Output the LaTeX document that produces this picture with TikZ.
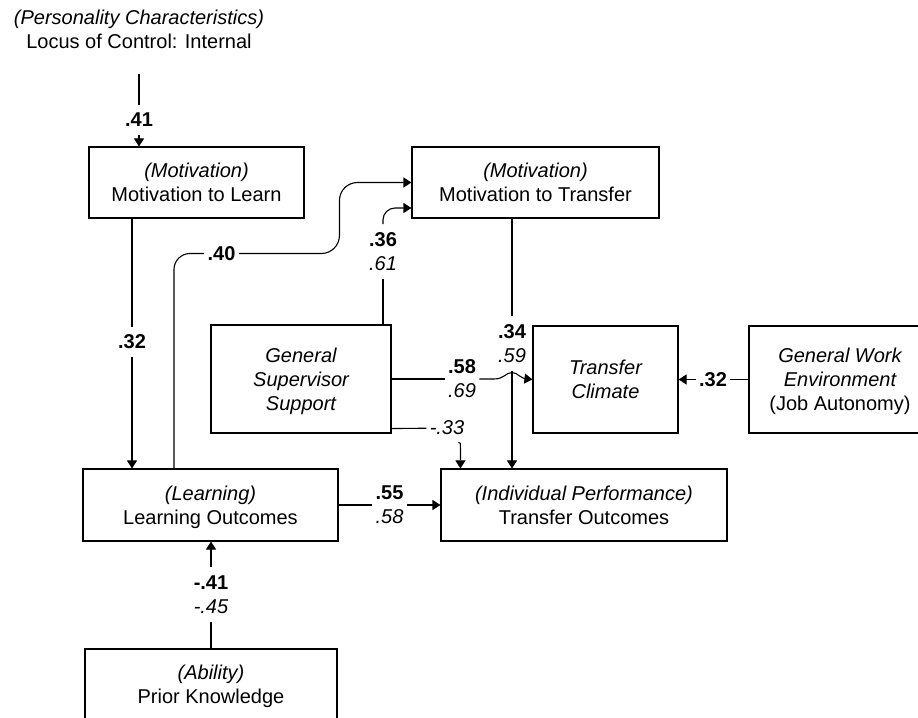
\documentclass[tikz,border=0pt]{standalone}
\usepackage{fontspec}
\setmainfont{Liberation Sans}
\usetikzlibrary{arrows.meta}
% centred lines; the node's baseline is that of the last line
\newcommand\stacklines[1]{\vbox{\halign{\hfil##\hfil\cr#1\crcr}}}
\begin{document}
\begin{tikzpicture}[x=0.5pt, y=-0.5pt,
  every node/.style={font=\fontsize{10}{12}\selectfont},
  box/.style n args={3}{draw, line width=0.55pt, inner sep=0pt,
    minimum width=#1, text height=#2, text depth=#3},
  coef/.style={inner xsep=1.5pt, inner ysep=4pt},
  link/.style={line width=0.55pt},
  arr/.style={link, -{Triangle[length=4pt,width=5pt]}}]
\useasboundingbox (0,0) rectangle (918,718);
\clip (0,0) rectangle (918,718);

% constructs
\node[anchor=base, inner sep=0pt] (locus) at (139,48.5)
  {\stacklines{\itshape (Personality Characteristics)\cr Locus of Control: Internal}};
\node[box={107.5pt}{27.33pt}{8.18pt}] (mtl) at (196.5,182.5)
  {\stacklines{\itshape (Motivation)\cr Motivation to Learn}};
\node[box={123.5pt}{27.33pt}{8.18pt}] (mtt) at (535.5,182.5)
  {\stacklines{\itshape (Motivation)\cr Motivation to Transfer}};
\node[box={90pt}{42.58pt}{11.43pt}] (gss) at (301,379)
  {\stacklines{\itshape General\cr\itshape Supervisor\cr\itshape Support}};
\node[box={72.5pt}{36.33pt}{17.18pt}] (tc) at (605.5,379.5)
  {\stacklines{\itshape Transfer\cr\itshape Climate}};
\node[box={91pt}{42.33pt}{11.18pt}] (gwe) at (840,379.5)
  {\stacklines{\itshape General Work\cr\itshape Environment\cr (Job Autonomy)}};
\node[box={127.5pt}{27.58pt}{8.43pt}] (lo) at (210.5,505)
  {\stacklines{\itshape (Learning)\cr Learning Outcomes}};
\node[box={143pt}{27.58pt}{8.43pt}] (to) at (584,505)
  {\stacklines{\itshape (Individual Performance)\cr Transfer Outcomes}};
\node[box={126pt}{27.33pt}{8.18pt}] (pk) at (211,684.5)
  {\stacklines{\itshape (Ability)\cr Prior Knowledge}};

% path coefficients
\node[coef] (l41) at (139,120) {\bfseries .41};
\node[coef] (l32) at (132,342) {\bfseries .32};
\node[coef] (l40) at (221.5,253.5) {\bfseries .40};
\node[coef] (l36) at (383,251.5) {\stacklines{\bfseries .36\cr\itshape .61}};
\node[coef] (l34) at (512,343.5) {\stacklines{\bfseries .34\cr\itshape .59}};
\node[coef] (l58) at (462,379) {\stacklines{\bfseries .58\cr\itshape .69}};
\node[coef] (l33) at (447,428) {\itshape -.33};
\node[coef] (l55) at (389.5,505) {\stacklines{\bfseries .55\cr\itshape .58}};
\node[coef] (l41b) at (211,594.5) {\stacklines{\bfseries -.41\cr\itshape -.45}};
\node[coef] (l32b) at (713,379.5) {\bfseries .32};

% paths
\draw[link] ([yshift=-12.75pt]locus.base) -- (l41);
\draw[arr] (l41) -- (mtl.north -| l41);

\draw[link] (mtl.south -| l32) -- (l32);
\draw[arr] (l32) -- (lo.north -| l32);

\draw[link, rounded corners=8pt] ([xshift=-18.25pt]lo.north) |- (l40.west);
\draw[arr, rounded corners=9pt] (l40.east) -| ([xshift=-36pt]mtt.west) -- (mtt.west);

\draw[link] (gss.north -| l36) -- (l36);
\draw[arr, rounded corners=6pt] (l36) |- ([yshift=-12.75pt]mtt.west);

\draw[link] (mtt.south -| l34) -- (l34);
\draw[arr] (l34) -- (to.north -| l34);

\coordinate (x58) at (l34 |- l58);
\draw[link] (gss.east) -- (l58);
\draw[arr] (l58) -- ([xshift=-9pt]x58)
  .. controls ([xshift=-4pt]x58) and ([xshift=-3pt,yshift=3.25pt]x58) .. ([yshift=3.25pt]x58)
  .. controls ([xshift=3pt,yshift=3.25pt]x58) and ([xshift=4pt]x58) .. ([xshift=8pt]x58)
  -- (tc.west);

\draw[link] ([yshift=2.5pt]gss.south east) -- (l33);
\coordinate (k33) at ([xshift=10pt,yshift=10pt]to.north west);
\draw[arr] ([shift={(-1pt,3pt)}]k33) .. controls ([yshift=3pt]k33) .. (k33) -- (to.north -| k33);

\draw[link] (gwe.west) -- (l32b);
\draw[arr] (l32b) -- (tc.east);

\draw[link] (lo.east) -- (l55);
\draw[arr] (l55) -- (to.west);

\draw[link] (pk.north) -- (l41b);
\draw[arr] (l41b) -- (lo.south -| l41b);
\end{tikzpicture}
\end{document}
